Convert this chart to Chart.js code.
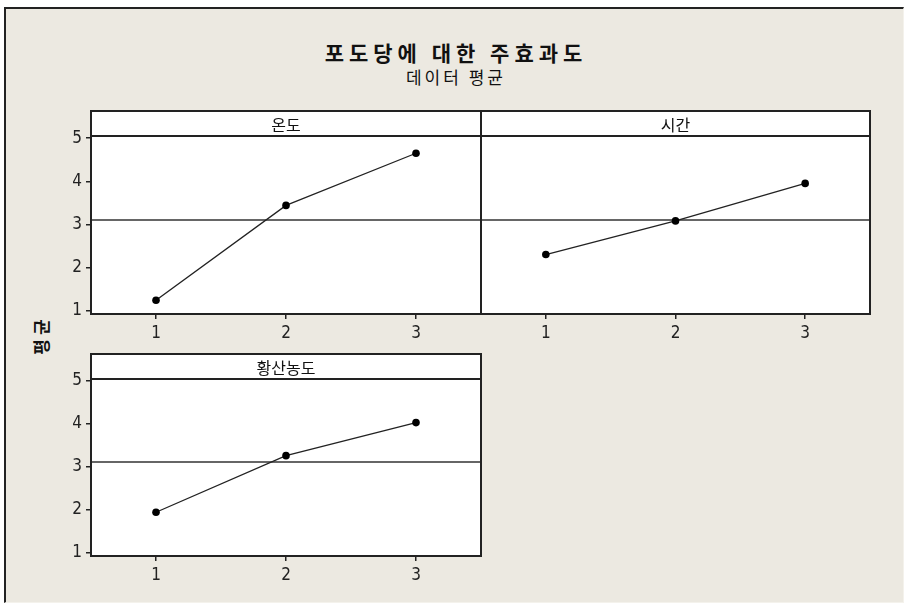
<!DOCTYPE html>
<html>
<head>
<meta charset="utf-8">
<script src="https://cdn.jsdelivr.net/npm/chart.js@4.4.0/dist/chart.umd.min.js"></script>
<style>
html, body { margin: 0; padding: 0; background: #fff; width: 905px; height: 607px; overflow: hidden; }
#frame { position: absolute; left: 4px; top: 7px; width: 900px; height: 596px; background: #ece9e1;
  border-top: 2px solid #222; border-left: 2px solid #222; border-right: 1px solid #f4f2ec; border-bottom: 1px solid #f4f2ec; box-sizing: border-box; }
.t { position: absolute; left: 0; width: 912px; text-align: center; font-family: "Noto Sans CJK KR", sans-serif; color: #111; }
#title { top: 37px; font-size: 21px; font-weight: bold; letter-spacing: 5px; line-height: 30px; }
#sub { top: 66px; font-size: 17px; letter-spacing: 3px; line-height: 22px; }
#ylab { position: absolute; left: 6px; top: 322px; width: 70px; height: 26px; line-height: 26px; text-align: center;
  transform: rotate(-90deg); font-family: "Noto Sans CJK KR", sans-serif; font-weight: bold; font-size: 17px; letter-spacing: 4px; color: #111; }
canvas { position: absolute; }
</style>
</head>
<body>
<div id="frame"></div>
<div class="t" id="title">포도당에 대한 주효과도</div>
<div class="t" id="sub">데이터 평균</div>
<div id="ylab">평균</div>
<canvas id="c1" width="450" height="245" style="left:40px;top:105px"></canvas>
<canvas id="c2" width="420" height="245" style="left:476px;top:105px"></canvas>
<canvas id="c3" width="450" height="245" style="left:40px;top:348px"></canvas>
<script>
// 데이터
const levels = ['1', '2', '3'];
const tempMeans = [1.24, 3.44, 4.65];   // 온도
const timeMeans = [2.30, 3.08, 3.95];   // 시간
const acidMeans = [1.94, 3.26, 4.03];   // 황산농도
const yTicks = [1, 2, 3, 4, 5];
const grandMean = 3.11;
const stripValue = 5.05;

const tickFont = { family: "'Liberation Sans Narrow', 'DejaVu Sans Condensed', 'Noto Sans CJK KR', sans-serif", size: 17 };

// 패널 배경, 기준선, 머리글
const panelPlugin = {
    id: 'panel',
    beforeDraw: function (chart, args, opts) {
        var a = chart.chartArea, ctx = chart.ctx, y = chart.scales.y;
        ctx.save();
        ctx.fillStyle = '#fff';
        ctx.fillRect(a.left, a.top, a.right - a.left, a.bottom - a.top);
        ctx.strokeStyle = '#333';
        ctx.lineWidth = 1.5;
        var ym = Math.round(y.getPixelForValue(grandMean));
        ctx.beginPath();
        ctx.moveTo(a.left, ym);
        ctx.lineTo(a.right, ym);
        ctx.stroke();
        var ys = Math.round(y.getPixelForValue(stripValue));
        ctx.strokeStyle = '#222';
        ctx.lineWidth = 2;
        ctx.beginPath();
        ctx.moveTo(a.left, ys);
        ctx.lineTo(a.right, ys);
        ctx.stroke();
        ctx.fillStyle = '#111';
        ctx.font = '16px "Noto Sans CJK KR", sans-serif';
        ctx.textAlign = 'center';
        ctx.textBaseline = 'middle';
        ctx.fillText(opts.header, (a.left + a.right) / 2, (a.top + ys) / 2 + 1);
        ctx.restore();
    },
    afterDraw: function (chart) {
        var a = chart.chartArea, ctx = chart.ctx;
        ctx.save();
        ctx.strokeStyle = '#222';
        ctx.lineWidth = 2;
        ctx.strokeRect(a.left, a.top, a.right - a.left, a.bottom - a.top);
        ctx.restore();
    }
};

function makePanel(id, values, header, showY, xHeight, pad) {
    new Chart(document.getElementById(id), {
        type: 'line',
        data: {
            labels: levels,
            datasets: [{
                data: values,
                borderColor: '#222',
                borderWidth: 1.3,
                pointRadius: 3.8,
                pointBackgroundColor: '#000',
                pointBorderWidth: 0,
                tension: 0
            }]
        },
        options: {
            responsive: false,
            animation: false,
            layout: { padding: pad },
            plugins: {
                legend: { display: false },
                tooltip: { enabled: false },
                panel: { header: header }
            },
            scales: {
                x: {
                    type: 'category',
                    offset: true,
                    grid: { offset: false, drawOnChartArea: false, tickLength: 5, color: '#222', lineWidth: 1.5 },
                    border: { display: false },
                    ticks: { font: tickFont, color: '#222', padding: 4, maxRotation: 0 },
                    afterFit: function (s) { s.height = xHeight; s.paddingLeft = 0; s.paddingRight = 0; }
                },
                y: {
                    display: showY,
                    min: 0.92,
                    max: 5.63,
                    afterBuildTicks: function (s) { s.ticks = yTicks.map(function (v) { return { value: v }; }); },
                    grid: { drawOnChartArea: false, tickLength: 5, color: '#222', lineWidth: 1.5 },
                    border: { display: false },
                    ticks: { font: tickFont, color: '#222', padding: 4 },
                    afterFit: function (s) { s.width = showY ? 51 : 0; s.paddingTop = 0; s.paddingBottom = 0; }
                }
            }
        },
        plugins: [panelPlugin]
    });
}

makePanel('c1', tempMeans, '온도', true, 36, { top: 6, right: 9, left: 0, bottom: 0 });
makePanel('c2', timeMeans, '시간', false, 36, { top: 6, right: 26, left: 5, bottom: 0 });
makePanel('c3', acidMeans, '황산농도', true, 37, { top: 6, right: 9, left: 0, bottom: 0 });
</script>
</body>
</html>
